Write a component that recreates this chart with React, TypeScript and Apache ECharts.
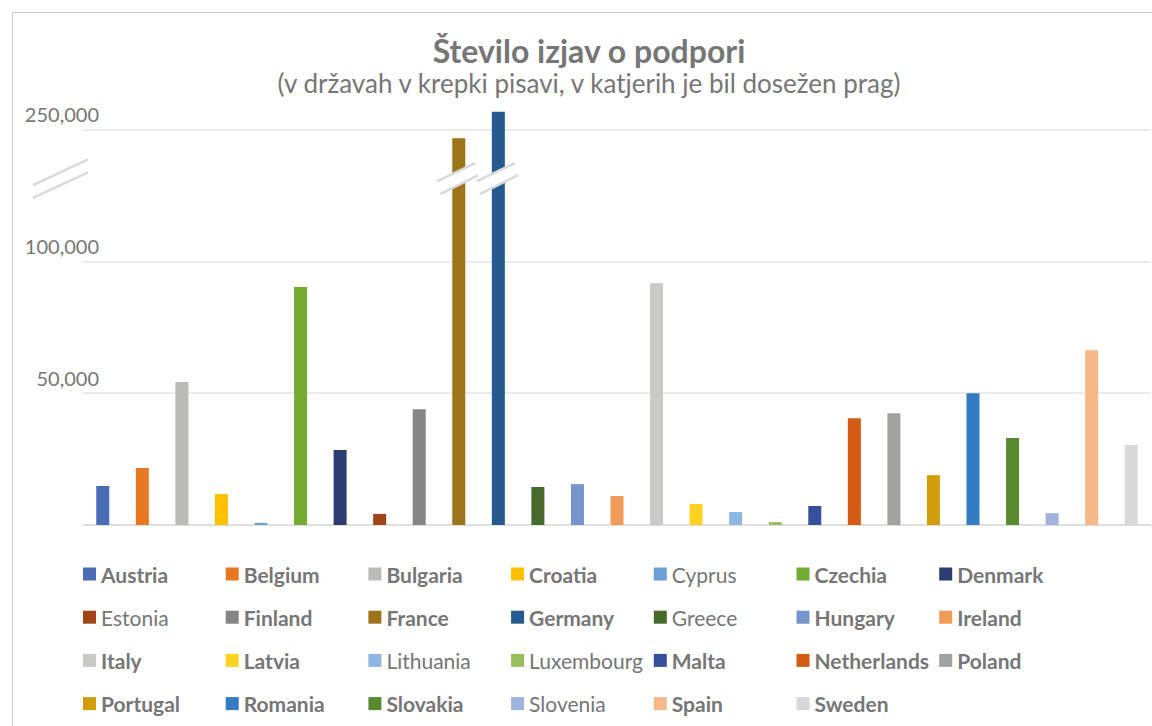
import React, { useEffect, useRef } from "react";
import * as echarts from "echarts";

const categories = [
  "Austria", "Belgium", "Bulgaria", "Croatia", "Cyprus", "Czechia", "Denmark",
  "Estonia", "Finland", "France", "Germany", "Greece", "Hungary", "Ireland",
  "Italy", "Latvia", "Lithuania", "Luxembourg", "Malta", "Netherlands", "Poland",
  "Portugal", "Romania", "Slovakia", "Slovenia", "Spain", "Sweden",
];

// statements of support per country
const supportValues = [
  14800, 21600, 54200, 11700, 800, 90200, 28400,
  4200, 43900, 240000, 270000, 14400, 15500, 11000,
  91700, 8000, 4900, 1100, 7200, 40500, 42400,
  18900, 50000, 33000, 4500, 66300, 30300,
];

// countries where the threshold was reached (bold in legend)
const thresholdReached = [
  true, true, true, true, false, true, true,
  false, true, true, true, false, true, true,
  true, true, false, false, true, true, true,
  true, true, true, false, true, true,
];

const barColors = [
  "#4A6CB4", "#E87722", "#BABAB9", "#FFC000", "#6A9FD8", "#76AB33", "#2B3D72",
  "#A14418", "#858585", "#9D731B", "#255A8F", "#466A2A", "#7594CC", "#F29A58",
  "#C9C9C8", "#FFD31F", "#8EB6E2", "#97C05A", "#36519B", "#D35B14", "#A1A1A0",
  "#D19E0A", "#337BC2", "#5A8A30", "#A0B3DD", "#F5B886", "#D8D8D8",
];

const titleText = "Število izjav o podpori";
const subtitleText = "(v državah v krepki pisavi, v katjerih je bil dosežen prag)";

// broken axis: above BREAK_FROM the scale is compressed by BREAK_FACTOR
const BREAK_FROM = 100000;
const BREAK_FACTOR = 3;
const AXIS_MAX_REAL = 280000;
const AXIS_INTERVAL = 50000;

const toAxis = (v: number) =>
  v <= BREAK_FROM ? v : BREAK_FROM + (v - BREAK_FROM) / BREAK_FACTOR;
const fromAxis = (a: number) =>
  a <= BREAK_FROM ? a : BREAK_FROM + (a - BREAK_FROM) * BREAK_FACTOR;

const TEXT_COLOR = "#767676";
const FONT = "Lato";

export default function App() {
  const ref = useRef<HTMLDivElement>(null);

  useEffect(() => {
    const chart = echarts.init(ref.current!, null, { renderer: "svg" });

    const series = categories.map((name, i) => ({
      name,
      type: "bar",
      stack: "all",
      barWidth: 13,
      itemStyle: { color: barColors[i] },
      data: categories.map((_, j) => (j === i ? toAxis(supportValues[i]) : null)),
    }));

    const legendColX = 83;
    const legendColStep = 142.7;
    const legendRowY = 574.5;
    const legendRowStep = 43.2;
    const legends = categories.map((name, i) => {
      const col = i % 7;
      const row = Math.floor(i / 7);
      return {
        left: legendColX + col * legendColStep,
        top: legendRowY + row * legendRowStep - 11,
        padding: 0,
        itemWidth: 13,
        itemHeight: 13,
        icon: "rect",
        selectedMode: false,
        textStyle: {
          fontFamily: FONT,
          fontSize: 21,
          lineHeight: 21,
          color: TEXT_COLOR,
        },
        data: [
          {
            name,
            textStyle: { fontWeight: thresholdReached[i] ? "bold" : "normal" },
          },
        ],
      };
    });

    chart.setOption({
      animation: false,
      backgroundColor: "#ffffff",
      title: [
        {
          text: titleText,
          left: 589,
          top: 34,
          textAlign: "center",
          padding: 0,
          textStyle: { fontFamily: FONT, fontWeight: "bold", fontSize: 32, color: TEXT_COLOR },
        },
        {
          text: subtitleText,
          left: 589,
          top: 70,
          textAlign: "center",
          padding: 0,
          textStyle: { fontFamily: FONT, fontWeight: "normal", fontSize: 26, color: TEXT_COLOR },
        },
      ],
      legend: legends,
      grid: { left: 83, right: 1, top: 525 - 422, bottom: 726 - 525, containLabel: false },
      xAxis: {
        type: "category",
        data: categories,
        axisLine: { show: true, lineStyle: { color: "#dcdcdc", width: 1.5 } },
        axisTick: { show: false },
        axisLabel: { show: false },
        splitLine: { show: false },
      },
      yAxis: {
        type: "value",
        min: 0,
        max: toAxis(AXIS_MAX_REAL),
        interval: AXIS_INTERVAL,
        axisLine: { show: false },
        axisTick: { show: false },
        splitLine: {
          show: true,
          showMaxLine: false,
          lineStyle: { color: "#e4e4e4", width: 1.5 },
        },
        axisLabel: {
          showMinLabel: false,
          showMaxLabel: false,
          margin: -16,
          verticalAlign: "bottom",
          padding: [0, 0, 5, 0],
          fontFamily: FONT,
          fontSize: 20,
          color: TEXT_COLOR,
          formatter: (v: number) =>
            v === 0 ? "" : Math.round(fromAxis(v)).toLocaleString("en-US"),
        },
      },
      series,
    });

    // break marks
    const y100 = chart.convertToPixel({ yAxisIndex: 0 }, toAxis(100000)) as number;
    const y250 = chart.convertToPixel({ yAxisIndex: 0 }, toAxis(250000)) as number;
    const cy = y250 + (y100 - y250) * 0.37;
    const lineStyle = { stroke: "#d9d9d9", lineWidth: 2.5 };
    const graphics: any[] = [
      {
        type: "rect",
        silent: true,
        z: -10,
        shape: { x: 12.5, y: 12.5, width: 1300, height: 900 },
        style: { fill: "none", stroke: "#c6c6c6", lineWidth: 1 },
      },
    ];
    const addBreak = (pts: number[][]) => {
      graphics.push({
        type: "polygon",
        silent: true,
        z: 100,
        shape: { points: pts },
        style: { fill: "#ffffff" },
      });
      graphics.push({
        type: "line",
        silent: true,
        z: 101,
        shape: { x1: pts[0][0], y1: pts[0][1], x2: pts[1][0], y2: pts[1][1] },
        style: lineStyle,
      });
      graphics.push({
        type: "line",
        silent: true,
        z: 101,
        shape: { x1: pts[3][0], y1: pts[3][1], x2: pts[2][0], y2: pts[2][1] },
        style: lineStyle,
      });
    };
    // axis break
    const ax = 83;
    addBreak([
      [ax - 50, cy + 7],
      [ax + 5, cy - 18.7],
      [ax + 5, cy - 5.7],
      [ax - 50, cy + 19.7],
    ]);
    // bars crossing the break
    supportValues.forEach((v, i) => {
      if (v > 200000) {
        const cx = chart.convertToPixel({ xAxisIndex: 0 }, categories[i]) as number;
        addBreak([
          [cx - 21.5, cy + 3],
          [cx + 16.5, cy - 15],
          [cx + 19.5, cy - 3],
          [cx - 18.5, cy + 16],
        ]);
      }
    });
    chart.setOption({ graphic: graphics });

    return () => chart.dispose();
  }, []);

  return (
    <div
      ref={ref}
      style={{ position: "absolute", left: 0, top: 0, width: 1152, height: 726, background: "#fff" }}
    />
  );
}
